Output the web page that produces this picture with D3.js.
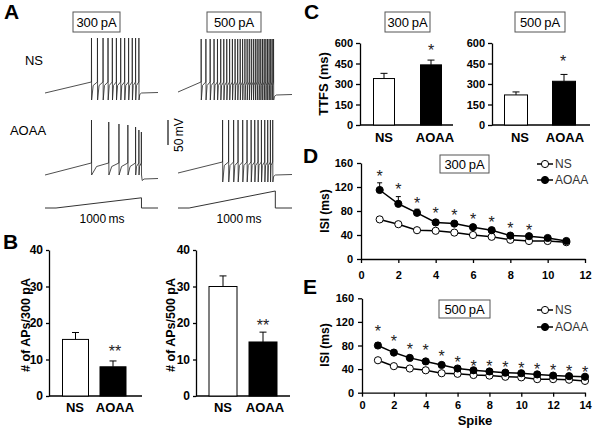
<!DOCTYPE html>
<html><head><meta charset="utf-8">
<script src="https://cdn.jsdelivr.net/npm/d3@7"></script>
<style>body{margin:0;background:#fff}svg{display:block}</style>
</head><body>
<svg id="fig" width="600" height="431"></svg>
<script>
// ---------------- DATA ----------------
const groups = ["NS", "AOAA"];
// Panel B: number of APs
const apCount300 = [15.5, 8.0], apCount300Err = [1.9, 1.6];
const apCount500 = [30.0, 14.8], apCount500Err = [2.9, 2.7];
const apTicks = [0, 10, 20, 30, 40];
// Panel C: time to first spike (ms)
const ttfs300 = [340, 440], ttfs300Err = [38, 35];
const ttfs500 = [220, 320], ttfs500Err = [22, 50];
const ttfsTicks = [0, 150, 300, 450, 600];
// Panel D: ISI at 300 pA
const spikes300 = [1, 2, 3, 4, 5, 6, 7, 8, 9, 10, 11];
const isi300NS = [66, 58, 48, 47, 44, 40, 37, 32, 30, 30, 28];
const isi300AOAA = [115, 92, 77, 61, 59, 53, 48, 39, 38, 35, 30];
const isi300AOAAErr = [12, 12, 6, 3, 3, 3, 3, 2, 2, 2, 2];
const isi300Stars = [143, 121, 99, 81, 79, 72, 66, 57, 54];
const isi300XTicks = [0, 2, 4, 6, 8, 10, 12];
// Panel E: ISI at 500 pA
const spikes500 = [1, 2, 3, 4, 5, 6, 7, 8, 9, 10, 11, 12, 13, 14];
const isi500NS = [55, 45, 41, 38, 33, 32, 30, 29, 27, 26, 23, 23, 22, 20];
const isi500AOAA = [80, 68, 59, 53, 47, 41, 38, 36, 34, 33, 31, 29, 28, 27];
const isi500AOAAErr = [5, 3, 3, 2, 2, 2, 2, 2, 2, 2, 2, 2, 2, 2];
const isi500Stars = [109, 92, 80, 77, 67, 57, 51, 50, 48, 47, 46, 44, 42, 41];
const isi500XTicks = [0, 2, 4, 6, 8, 10, 12, 14];
const isiTicks = [0, 40, 80, 120, 160];
// Panel A: spike times (ms) and levels [start, threshold, peak, trough, post] (mV)
const ns300Spikes = [505, 570, 631, 685, 732, 776, 823, 866, 909, 949, 985, 1021];
const aoaa300Spikes = [505, 693, 804, 901, 985, 1021, 1048];
const aoaa300Peaks = [40, 36, 32, 30, 26, 20, 16];
const ns500Spikes = [249, 300, 346, 388, 425, 460, 493, 525, 556, 586, 615, 643, 670, 696, 721, 745,
  768, 790, 812, 833, 853, 873, 892, 911, 929, 947, 965, 982, 999, 1015, 1030];
const aoaa500Spikes = [480, 545, 599, 647, 697, 744, 788, 827, 863, 899, 935, 967, 996, 1021];
const ns300Levels = [-70, -48, 40, -84, -70];
const aoaa300Levels = [-70, -46, 40, -70, -78];
const ns500Levels = [-68, -48, 38, -84, -74];
const aoaa500Levels = [-66, -44, 40, -84, -70];
// Current ramp
const rampTimes = [0, 120, 1050, 1050, 1230];
const ramp300 = [0, 0, 300, 0, 0];
const ramp500 = [0, 0, 500, 0, 0];

// ---------------- DRAWING ----------------
const F = "'Liberation Sans', Arial, Helvetica, sans-serif";
const svg = d3.select("#fig").style("font-family", F);

function txt(x, y, s, o = {}) {
  const t = svg.append("text").attr("x", x).attr("y", y).text(s)
    .attr("font-size", o.size || 13).attr("font-weight", o.bold ? "bold" : "normal")
    .attr("fill", o.fill || "#000").attr("text-anchor", o.anchor || "middle");
  if (o.rot) t.attr("transform", `rotate(-90,${x},${y})`);
  return t;
}
function box(x, y, w, h, s) {
  svg.append("rect").attr("x", x).attr("y", y).attr("width", w).attr("height", h)
    .attr("fill", "#fff").attr("stroke", "#555").attr("stroke-width", 1);
  txt(x + w / 2, y + h / 2 + 4.6, s, { size: 13 });
}

// Panel letters
txt(4, 19, "A", { size: 21, bold: true, anchor: "start" });
txt(3, 249, "B", { size: 21, bold: true, anchor: "start" });
txt(304, 19, "C", { size: 21, bold: true, anchor: "start" });
txt(303, 163, "D", { size: 21, bold: true, anchor: "start" });
txt(303, 294, "E", { size: 21, bold: true, anchor: "start" });

// ---------- Panel A ----------
box(73, 12, 47, 20, "300\u2009pA");
box(207, 12, 54, 20, "500\u2009pA");
txt(34, 65, "NS", { size: 13, anchor: "middle" });
txt(28, 135, "AOAA", { size: 13, anchor: "middle" });

const xL = d3.scaleLinear().domain([0, 1230]).range([45, 158]);
const xR = d3.scaleLinear().domain([0, 1230]).range([178, 292]);
const vNS = d3.scaleLinear().domain([-100, 40]).range([108, 38]);
const vAO = d3.scaleLinear().domain([-100, 40]).range([190, 120]);

function tracePoints(spk, lv, peaks) {
  const [vStart, vTh, vPeak, vTr, vPost] = lv;
  const pts = [[0, vStart], [spk[0] - 1, vTh]];
  spk.forEach((s, i) => {
    const pk = peaks ? peaks[i] : vPeak;
    pts.push([s, vTh], [s + 1, pk], [s + 2.5, vTr]);
    if (i < spk.length - 1) {
      const gap = spk[i + 1] - s;
      pts.push([s + 0.3 * gap, vTh - 7], [spk[i + 1] - 0.5, vTh]);
    } else {
      pts.push([s + 10, vPost - 3], [s + 30, vPost], [1230, vPost + 1]);
    }
  });
  return pts;
}
function drawTrace(xs, ys, pts) {
  svg.append("path").attr("d", d3.line().x(d => xs(d[0])).y(d => ys(d[1]))(pts))
    .attr("fill", "none").attr("stroke", "#222").attr("stroke-width", 0.8);
}
drawTrace(xL, vNS, tracePoints(ns300Spikes, ns300Levels));
drawTrace(xR, vNS, tracePoints(ns500Spikes, ns500Levels));
drawTrace(xL, vAO, tracePoints(aoaa300Spikes, aoaa300Levels, aoaa300Peaks));
drawTrace(xR, vAO, tracePoints(aoaa500Spikes, aoaa500Levels));

// scale bar 50 mV
svg.append("line").attr("x1", 168).attr("x2", 168).attr("y1", vAO(40)).attr("y2", vAO(-10))
  .attr("stroke", "#222").attr("stroke-width", 1.3);
txt(183, 135, "50\u2009mV", { size: 12, rot: true });

// current ramps
const iScale = d3.scaleLinear().domain([0, 500]).range([208, 191]);
function drawRamp(xs, amps) {
  const pts = rampTimes.map((t, i) => [t, amps[i]]);
  svg.append("path").attr("d", d3.line().x(d => xs(d[0])).y(d => iScale(d[1]))(pts))
    .attr("fill", "none").attr("stroke", "#333").attr("stroke-width", 1);
}
drawRamp(xL, ramp300);
drawRamp(xR, ramp500);
txt(102, 223, "1000\u2009ms", { size: 12 });
txt(239, 223, "1000\u2009ms", { size: 12 });

// ---------- Bar charts ----------
function barChart(c) {
  const y = d3.scaleLinear().domain(c.domain).range([c.y0, c.y1]);
  const x = d3.scalePoint().domain(groups).range(c.centers);
  const g = svg.append("g");
  const ax = g.append("g").attr("transform", `translate(${c.ax},0)`)
    .call(d3.axisLeft(y).tickValues(c.ticks).tickSize(c.tickSize).tickPadding(c.pad).tickSizeOuter(0));
  ax.selectAll("path,line").attr("stroke", "#000").attr("stroke-width", 1.3);
  ax.selectAll("text").attr("font-family", F).attr("font-size", c.fs).attr("font-weight", "bold").attr("fill", "#000");
  g.append("line").attr("x1", c.ax).attr("x2", c.xEnd).attr("y1", y(0)).attr("y2", y(0))
    .attr("stroke", "#000").attr("stroke-width", 1.3);
  groups.forEach((k, i) => {
    const cx = x(k), top = y(c.mean[i]), et = y(c.mean[i] + c.err[i]);
    g.append("line").attr("x1", cx).attr("x2", cx).attr("y1", top).attr("y2", et).attr("stroke", "#000").attr("stroke-width", 1);
    g.append("line").attr("x1", cx - 3.5).attr("x2", cx + 3.5).attr("y1", et).attr("y2", et).attr("stroke", "#000").attr("stroke-width", 1);
    g.append("rect").attr("x", cx - c.bw / 2).attr("y", top).attr("width", c.bw).attr("height", y(0) - top)
      .attr("fill", i === 0 ? "#fff" : "#000").attr("stroke", "#000").attr("stroke-width", 1);
    txt(c.labelX[i], c.labelY, k, { size: c.lfs, bold: true });
  });
  txt(c.starX, c.starY, c.star, { size: 16, fill: "#222" });
  if (c.ylabel) txt(c.ylx, c.yly, c.ylabel, { size: c.ylfs, bold: true, rot: true });
}

barChart({ domain: [0, 40], y0: 396, y1: 250, centers: [75.5, 113], ax: 49, xEnd: 142, ticks: apTicks,
  tickSize: 3, pad: 3, fs: 12, bw: 26, mean: apCount300, err: apCount300Err,
  labelX: [75, 115], labelY: 412, lfs: 13, star: "**", starX: 115, starY: 357,
  ylabel: "# of APs/300 pA", ylx: 30, yly: 325, ylfs: 12.5 });
barChart({ domain: [0, 40], y0: 396, y1: 250, centers: [223, 263], ax: 196, xEnd: 290, ticks: apTicks,
  tickSize: 3, pad: 3, fs: 12, bw: 28, mean: apCount500, err: apCount500Err,
  labelX: [223, 265], labelY: 412, lfs: 13, star: "**", starX: 263, starY: 331,
  ylabel: "# of APs/500 pA", ylx: 175, yly: 325, ylfs: 12.5 });

box(385, 12, 45, 20, "300\u2009pA");
box(515, 12, 50, 20, "500\u2009pA");
barChart({ domain: [0, 600], y0: 125, y1: 43, centers: [384, 431], ax: 360, xEnd: 453, ticks: ttfsTicks,
  tickSize: 4, pad: 3, fs: 11, bw: 21, mean: ttfs300, err: ttfs300Err,
  labelX: [384, 435], labelY: 142, lfs: 13, star: "*", starX: 431, starY: 56,
  ylabel: "TTFS (ms)", ylx: 328, yly: 84, ylfs: 13 });
barChart({ domain: [0, 600], y0: 125, y1: 43, centers: [516, 564], ax: 492, xEnd: 590, ticks: ttfsTicks,
  tickSize: 4, pad: 3, fs: 11, bw: 23, mean: ttfs500, err: ttfs500Err,
  labelX: [520, 565], labelY: 142, lfs: 13, star: "*", starX: 563, starY: 67,
  ylabel: "", ylx: 0, yly: 0, ylfs: 13 });

// ---------- ISI line charts ----------
function isiChart(c) {
  const x = d3.scaleLinear().domain(c.xd).range([c.x0, c.x1]);
  const y = d3.scaleLinear().domain([0, 160]).range([c.y0, c.y1]);
  const g = svg.append("g");
  const ay = g.append("g").attr("transform", `translate(${c.x0},0)`)
    .call(d3.axisLeft(y).tickValues(isiTicks).tickSize(4).tickPadding(4).tickSizeOuter(0));
  const axx = g.append("g").attr("transform", `translate(0,${c.y0})`)
    .call(d3.axisBottom(x).tickValues(c.xticks).tickSize(4).tickPadding(c.xpad).tickSizeOuter(0));
  [ay, axx].forEach(a => {
    a.selectAll("path,line").attr("stroke", "#000").attr("stroke-width", 1.3);
    a.selectAll("text").attr("font-family", F).attr("font-size", 11).attr("font-weight", "bold").attr("fill", "#000");
  });
  const line = d3.line().x((d, i) => x(c.spk[i])).y(d => y(d));
  g.append("path").attr("d", line(c.ns)).attr("fill", "none").attr("stroke", "#000").attr("stroke-width", 1.5);
  g.append("path").attr("d", line(c.ao)).attr("fill", "none").attr("stroke", "#000").attr("stroke-width", 1.5);
  c.ao.forEach((v, i) => {
    const cx = x(c.spk[i]), et = y(v + c.err[i]);
    g.append("line").attr("x1", cx).attr("x2", cx).attr("y1", y(v)).attr("y2", et).attr("stroke", "#000").attr("stroke-width", 1);
    g.append("line").attr("x1", cx - 2.5).attr("x2", cx + 2.5).attr("y1", et).attr("y2", et).attr("stroke", "#000").attr("stroke-width", 1);
  });
  c.ns.forEach((v, i) => g.append("circle").attr("cx", x(c.spk[i])).attr("cy", y(v)).attr("r", 3.6)
    .attr("fill", "#fff").attr("stroke", "#000").attr("stroke-width", 1));
  c.ao.forEach((v, i) => g.append("circle").attr("cx", x(c.spk[i])).attr("cy", y(v)).attr("r", 3.6)
    .attr("fill", "#000").attr("stroke", "#000").attr("stroke-width", 1));
  c.stars.forEach((v, i) => txt(x(c.spk[i]), y(v) + 9, "*", { size: 16, fill: "#222" }));
  // legend
  [["NS", "#fff", c.leg[0]], ["AOAA", "#000", c.leg[1]]].forEach(([n, f, ly]) => {
    g.append("line").attr("x1", 537).attr("x2", 553).attr("y1", ly).attr("y2", ly).attr("stroke", "#000").attr("stroke-width", 1.5);
    g.append("circle").attr("cx", 545).attr("cy", ly).attr("r", 3.6).attr("fill", f).attr("stroke", "#000").attr("stroke-width", 1);
    txt(555, ly + 4.3, n, { size: 12, anchor: "start", fill: "#333" });
  });
  txt(c.ylx, c.yly, "ISI (ms)", { size: 12, bold: true, rot: true });
}
isiChart({ xd: [0, 12], x0: 361, x1: 585, y0: 259, y1: 163, xticks: isi300XTicks, xpad: 8,
  spk: spikes300, ns: isi300NS, ao: isi300AOAA, err: isi300AOAAErr, stars: isi300Stars,
  leg: [164, 180], ylx: 329, yly: 211 });
box(440, 155, 49, 18, "300\u2009pA");
isiChart({ xd: [0, 14], x0: 362, x1: 585, y0: 392.7, y1: 298.3, xticks: isi500XTicks, xpad: 5,
  spk: spikes500, ns: isi500NS, ao: isi500AOAA, err: isi500AOAAErr, stars: isi500Stars,
  leg: [310, 327], ylx: 329, yly: 345 });
box(439, 300, 51, 18, "500\u2009pA");
txt(475, 425, "Spike", { size: 13, bold: true });
</script>
</body></html>
